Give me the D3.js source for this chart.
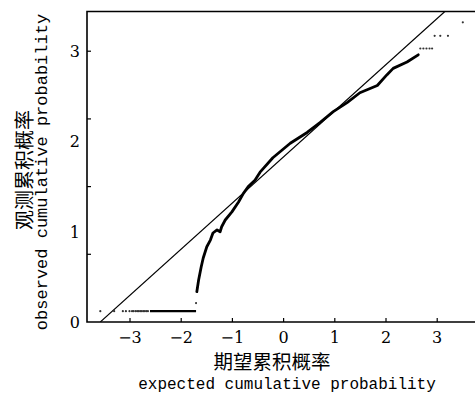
<!DOCTYPE html>
<html>
<head>
<meta charset="utf-8">
<script src="https://cdn.jsdelivr.net/npm/d3@7"></script>
<style>
  body { margin: 0; background: #fff; }
</style>
</head>
<body>
<div id="chart"></div>
<script>
// dense part of the Q-Q curve
const curveX = [-1.695, -1.66, -1.61, -1.57, -1.50, -1.43, -1.38, -1.30, -1.24, -1.21, -1.14, -1.01, -0.88, -0.785, -0.69, -0.56, -0.46, -0.21, 0.13, 0.46, 0.71, 0.97, 1.24, 1.49, 1.83, 2.02, 2.14, 2.41, 2.63];
const curveY = [0.336, 0.465, 0.609, 0.709, 0.834, 0.908, 0.986, 1.02, 1.00, 1.055, 1.13, 1.22, 1.33, 1.425, 1.50, 1.57, 1.66, 1.82, 1.98, 2.10, 2.21, 2.33, 2.43, 2.54, 2.62, 2.74, 2.81, 2.88, 2.96];

// flat run of tied values at the bottom
const flatX = [-2.61, -1.71];
const flatY = 0.12;

// sparse single points
const dotX = [-3.58, -3.31, -3.14, -3.08, -3.01, -2.96, -2.93, -2.89, -2.86, -2.83, -2.80, -2.77, -2.74, -2.71, -2.68, -2.65, -1.71, 2.67, 2.73, 2.79, 2.85, 2.90, 2.95, 3.06, 3.21, 3.50];
const dotY = [0.12, 0.12, 0.12, 0.12, 0.12, 0.12, 0.12, 0.12, 0.12, 0.12, 0.12, 0.12, 0.12, 0.12, 0.12, 0.12, 0.21, 3.03, 3.03, 3.03, 3.03, 3.03, 3.17, 3.17, 3.17, 3.32];

// reference line end points
const refX = [-3.58, 3.15];
const refY = [0, 3.44];

const xTicks = [-3, -2, -1, 0, 1, 2, 3];
const yTickMarks = [0.75, 1.5, 2.25, 3];
const yTickLabels = [0, 1, 2, 3];

const width = 475, height = 396;
const plot = { left: 87, right: 475, top: 11.5, bottom: 322 };
const serif = "DejaVu Serif, serif";
const mono = "Liberation Mono, monospace";
const cjk = "Noto Sans CJK SC, sans-serif";

const svg = d3.select("#chart").append("svg")
  .attr("width", width)
  .attr("height", height);

const x = d3.scaleLinear().domain([-3.84, 3.74]).range([plot.left, plot.left + 7.58 * 51.2]);
const y = d3.scaleLinear().domain([0, 3.44]).range([plot.bottom, plot.top]);

svg.append("defs").append("clipPath").attr("id", "clip")
  .append("rect")
  .attr("x", plot.left).attr("y", plot.top)
  .attr("width", plot.right - plot.left).attr("height", plot.bottom - plot.top);

const g = svg.append("g").attr("clip-path", "url(#clip)");

// reference line
g.append("line")
  .attr("x1", x(refX[0])).attr("y1", y(refY[0]))
  .attr("x2", x(refX[1])).attr("y2", y(refY[1]))
  .attr("stroke", "#000")
  .attr("stroke-width", 1.1);

// flat run
g.append("line")
  .attr("x1", x(flatX[0])).attr("y1", y(flatY))
  .attr("x2", x(flatX[1])).attr("y2", y(flatY))
  .attr("stroke", "#000")
  .attr("stroke-width", 2.2);

// dense curve
const curve = curveX.map((d, i) => [d, curveY[i]]);
g.append("path")
  .datum(curve)
  .attr("fill", "none")
  .attr("stroke", "#000")
  .attr("stroke-width", 2.8)
  .attr("stroke-linejoin", "round")
  .attr("stroke-linecap", "round")
  .attr("d", d3.line().x(d => x(d[0])).y(d => y(d[1])));

g.selectAll(".dot")
  .data(dotX.map((d, i) => [d, dotY[i]]))
  .enter()
  .append("circle")
  .attr("class", "dot")
  .attr("cx", d => x(d[0]))
  .attr("cy", d => y(d[1]))
  .attr("r", 1.1)
  .attr("fill", "#333");

// frame: left, top, bottom
svg.append("path")
  .attr("d", `M${plot.right},${plot.top}H${plot.left}V${plot.bottom}H${plot.right}`)
  .attr("stroke", "#000").attr("stroke-width", 1.6).attr("fill", "none");

// x ticks (inward)
svg.selectAll(".xtick")
  .data(xTicks)
  .enter()
  .append("line")
  .attr("x1", d => x(d)).attr("x2", d => x(d))
  .attr("y1", plot.bottom).attr("y2", plot.bottom - 4)
  .attr("stroke", "#000").attr("stroke-width", 1.2);

const fmt = d3.format("");
svg.selectAll(".xlabel")
  .data(xTicks)
  .enter()
  .append("text")
  .attr("x", d => x(d))
  .attr("y", 343)
  .attr("text-anchor", "middle")
  .attr("font-family", serif)
  .attr("font-size", 16)
  .text(d => fmt(d));

// y tick marks and labels (marks do not sit on the labels in the original)
svg.selectAll(".ytick")
  .data(yTickMarks)
  .enter()
  .append("line")
  .attr("x1", plot.left).attr("x2", plot.left + 4)
  .attr("y1", d => y(d)).attr("y2", d => y(d))
  .attr("stroke", "#000").attr("stroke-width", 1.2);

svg.selectAll(".ylabel")
  .data(yTickLabels)
  .enter()
  .append("text")
  .attr("x", 80)
  .attr("y", d => y(d) + 6)
  .attr("text-anchor", "end")
  .attr("font-family", serif)
  .attr("font-size", 16)
  .text(d => fmt(d));

// axis titles
svg.append("text")
  .attr("x", 272)
  .attr("y", 369)
  .attr("text-anchor", "middle")
  .attr("font-family", cjk)
  .attr("font-size", 19.5)
  .text("期望累积概率");

svg.append("text")
  .attr("x", 287)
  .attr("y", 389)
  .attr("text-anchor", "middle")
  .attr("font-family", mono)
  .attr("font-size", 16)
  .text("expected cumulative probability");

svg.append("text")
  .attr("transform", "translate(32,170) rotate(-90)")
  .attr("text-anchor", "middle")
  .attr("font-family", cjk)
  .attr("font-size", 20)
  .text("观测累积概率");

svg.append("text")
  .attr("transform", "translate(47,172) rotate(-90)")
  .attr("text-anchor", "middle")
  .attr("font-family", mono)
  .attr("font-size", 17)
  .text("observed cumulative probability");
</script>
</body>
</html>
